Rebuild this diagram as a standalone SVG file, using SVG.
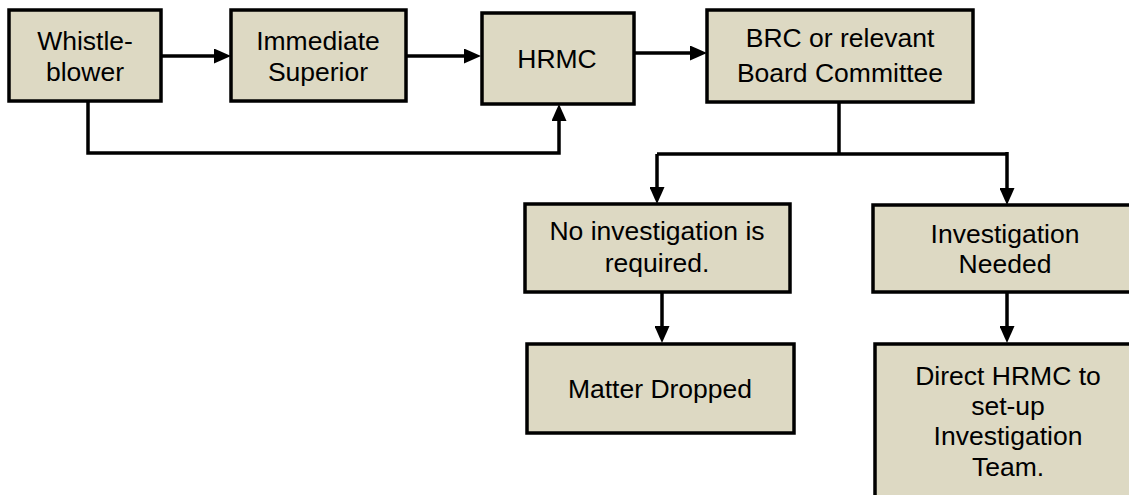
<svg xmlns="http://www.w3.org/2000/svg" width="1129" height="495" viewBox="0 0 1129 495">
<style>
.box{fill:#ddd9c3;stroke:#000;stroke-width:3.5}
.t{font-family:"Liberation Sans",Arial,sans-serif;font-size:26.5px;fill:#000;text-anchor:middle}
.c{fill:none;stroke:#000;stroke-width:3.5}
</style>
<defs>
<marker id="ah" markerUnits="userSpaceOnUse" markerWidth="17" markerHeight="15" refX="8" refY="7.5" orient="auto">
<path d="M0,0 L17,7.5 L0,15 z" fill="#000"/>
</marker>
</defs>
<rect x="0" y="0" width="1129" height="495" fill="#fff"/>
<g id="connectors">
<path class="c" d="M161,56 H222" marker-end="url(#ah)"/>
<path class="c" d="M406,56 H472" marker-end="url(#ah)"/>
<path class="c" d="M634,53 H698" marker-end="url(#ah)"/>
<path class="c" d="M88,101 V153 H559 V113" marker-end="url(#ah)"/>
<path class="c" d="M839,102 V154"/>
<path class="c" d="M657,154 H1008"/>
<path class="c" d="M657,154 V195" marker-end="url(#ah)"/>
<path class="c" d="M1007,152 V196" marker-end="url(#ah)"/>
<path class="c" d="M662,292 V334" marker-end="url(#ah)"/>
<path class="c" d="M1007,292 V334" marker-end="url(#ah)"/>
</g>
<g id="whistleblower">
<rect class="box" x="9" y="10" width="152" height="91"/>
<text class="t" x="85" y="50">Whistle-</text>
<text class="t" x="85" y="81">blower</text>
</g>
<g id="superior">
<rect class="box" x="231" y="10" width="175" height="91"/>
<text class="t" x="318" y="50">Immediate</text>
<text class="t" x="318" y="81">Superior</text>
</g>
<g id="hrmc">
<rect class="box" x="482" y="13" width="152" height="91"/>
<text class="t" x="557" y="68">HRMC</text>
</g>
<g id="brc">
<rect class="box" x="707" y="10" width="266" height="92"/>
<text class="t" x="840" y="47">BRC or relevant</text>
<text class="t" x="840" y="82">Board Committee</text>
</g>
<g id="noinv">
<rect class="box" x="525" y="204" width="265" height="88"/>
<text class="t" x="657" y="240">No investigation is</text>
<text class="t" x="657" y="272">required.</text>
</g>
<g id="invneeded">
<rect class="box" x="873" y="205" width="270" height="87"/>
<text class="t" x="1005" y="243">Investigation</text>
<text class="t" x="1005" y="273">Needed</text>
</g>
<g id="dropped">
<rect class="box" x="527" y="344" width="267" height="89"/>
<text class="t" x="660" y="398">Matter Dropped</text>
</g>
<g id="direct">
<rect class="box" x="875" y="344" width="270" height="170"/>
<text class="t" x="1008" y="385">Direct HRMC to</text>
<text class="t" x="1008" y="415">set-up</text>
<text class="t" x="1008" y="445">Investigation</text>
<text class="t" x="1008" y="476">Team.</text>
</g>
</svg>
